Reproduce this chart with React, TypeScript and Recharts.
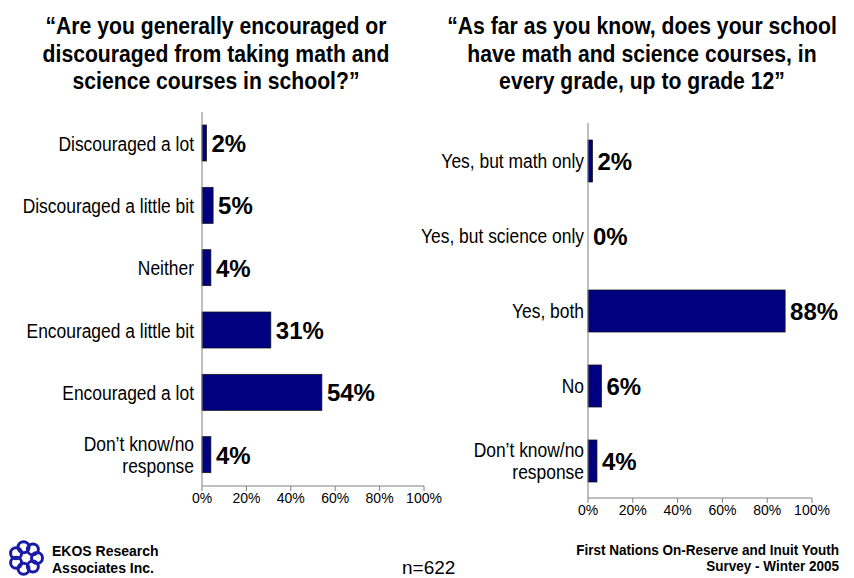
import React from "react";
import { BarChart, Bar, XAxis, YAxis } from "recharts";

// ---------------------------------------------------------------------------
// Data
// ---------------------------------------------------------------------------
const leftCategories = [
  "Discouraged a lot",
  "Discouraged a little bit",
  "Neither",
  "Encouraged a little bit",
  "Encouraged a lot",
  "Don\u2019t know/no\nresponse",
];
const leftValues = [2, 5, 4, 31, 54, 4];

const rightCategories = [
  "Yes, but math only",
  "Yes, but science only",
  "Yes, both",
  "No",
  "Don\u2019t know/no\nresponse",
];
const rightValues = [2, 0, 88, 6, 4];

const xTicks = [0, 20, 40, 60, 80, 100];

const leftData = leftCategories.map((label, i) => ({ label, value: leftValues[i] }));
const rightData = rightCategories.map((label, i) => ({ label, value: rightValues[i] }));

// ---------------------------------------------------------------------------
// Styles
// ---------------------------------------------------------------------------
// no Arial Narrow installed: Liberation Sans squeezed horizontally stands in for it
const SANS = '"Liberation Sans", Arial, sans-serif';
const NARROW = 0.83;
const BAR = "#000080";
const AXIS = "#808080";

function CatTick({ x, y, payload }: { x?: number; y?: number; payload?: { value: string } }) {
  const lines = String(payload?.value ?? "").split("\n");
  const lh = 22;
  const y0 = (y ?? 0) - ((lines.length - 1) * lh) / 2;
  return (
    <g>
      {lines.map((l, i) => (
        <text
          key={i}
          x={0}
          y={0}
          dy="0.35em"
          transform={`translate(${x} ${y0 + i * lh}) scale(${NARROW} 1)`}
          textAnchor="end"
          fontSize={21}
          fontFamily={SANS}
          fill="#000"
        >
          {l}
        </text>
      ))}
    </g>
  );
}

function ValueLabel(props: { x?: number; y?: number; width?: number; height?: number; value?: number }) {
  const { x = 0, y = 0, width = 0, height = 0, value } = props;
  return (
    <text
      x={x + width + 5}
      y={y + height / 2}
      dy="0.37em"
      textAnchor="start"
      fontSize={24}
      fontWeight={700}
      fontFamily={SANS}
      fill="#000"
    >
      {`${value}%`}
    </text>
  );
}

// bars with a 0 value get no rectangle, only their label
function BarShape(props: any) {
  const { x, y, width, height, payload } = props;
  if (!payload || payload.value <= 0) return <g />;
  return <rect x={x} y={y} width={width} height={height} fill={BAR} stroke="#111" strokeWidth={0.75} />;
}

function Panel({ data, width, height, yAxisWidth, margin, barSize, labelGap }: {
  data: { label: string; value: number }[];
  width: number;
  height: number;
  yAxisWidth: number;
  margin: { top: number; right: number; bottom: number; left: number };
  barSize: number;
  labelGap: number;
}) {
  return (
    <BarChart layout="vertical" width={width} height={height} data={data} margin={margin}>
      <XAxis
        type="number"
        domain={[0, 100]}
        ticks={xTicks}
        height={30}
        tickFormatter={(v: number) => `${v}%`}
        stroke={AXIS}
        tickSize={5}
        tick={{ fontSize: 14, fill: "#000", fontFamily: SANS }}
      />
      <YAxis
        type="category"
        dataKey="label"
        width={yAxisWidth}
        stroke={AXIS}
        tickLine={false}
        tickSize={labelGap - 2}
        tickMargin={2}
        interval={0}
        tick={<CatTick />}
      />
      <Bar
        dataKey="value"
        fill={BAR}
        barSize={barSize}
        minPointSize={0.01}
        shape={<BarShape />}
        isAnimationActive={false}
        label={(p: any) => <ValueLabel {...p} />}
      />
    </BarChart>
  );
}

function Logo() {
  const spokes = [0, 1, 2, 3, 4, 5, 6];
  return (
    <svg width={38} height={38} viewBox="-19 -19 38 38">
      {spokes.map((i) => {
        const a = (i / spokes.length) * Math.PI * 2;
        return (
          <circle key={i} cx={Math.cos(a) * 11} cy={Math.sin(a) * 11} r={5.5} fill="none" stroke="#1a1aa8" strokeWidth={3} />
        );
      })}
    </svg>
  );
}

const titleStyle: React.CSSProperties = {
  position: "absolute",
  top: 13,
  width: 500,
  textAlign: "center",
  fontFamily: SANS,
  fontWeight: 700,
  fontSize: 23,
  lineHeight: "27.5px",
  color: "#000",
  transform: "scaleX(0.92)",
  transformOrigin: "center top",
  whiteSpace: "nowrap",
};

export default function App() {
  return (
    <div style={{ position: "absolute", left: 0, top: 0, width: 854, height: 578, background: "#fff", overflow: "hidden" }}>
      {/* titles */}
      <div style={{ ...titleStyle, left: 216 - 250 }}>
        {"\u201CAre you generally encouraged or"}<br />
        discouraged from taking math and<br />
        {"science courses in school?\u201D"}
      </div>
      <div style={{ ...titleStyle, left: 642 - 250 }}>
        {"\u201CAs far as you know, does your school"}<br />
        have math and science courses, in<br />
        {"every grade, up to grade 12\u201D"}
      </div>

      {/* charts */}
      <div style={{ position: "absolute", left: 0, top: 0 }}>
        <Panel
          data={leftData}
          width={460}
          height={540}
          yAxisWidth={202}
          margin={{ top: 112, right: 36, bottom: 24, left: 0 }}
          barSize={36}
          labelGap={8}
        />
      </div>
      <div style={{ position: "absolute", left: 400, top: 0 }}>
        <Panel
          data={rightData}
          width={454}
          height={540}
          yAxisWidth={188}
          margin={{ top: 123, right: 42, bottom: 12, left: 0 }}
          barSize={42}
          labelGap={4}
        />
      </div>

      {/* footer */}
      <div style={{ position: "absolute", left: 7, top: 539 }}>
        <Logo />
      </div>
      <div style={{ position: "absolute", left: 52, top: 543, fontFamily: SANS, fontWeight: 700, fontSize: 14, lineHeight: "17px", color: "#000" }}>
        EKOS Research<br />Associates Inc.
      </div>
      <div style={{ position: "absolute", left: 402, top: 557, fontFamily: SANS, fontSize: 19, lineHeight: "22px", color: "#000" }}>
        n=622
      </div>
      <div style={{ position: "absolute", left: 839 - 400, top: 542, width: 400, textAlign: "right", fontFamily: SANS, fontWeight: 700, fontSize: 15, lineHeight: "15.5px", color: "#000", transform: "scaleX(0.9)", transformOrigin: "right top", whiteSpace: "nowrap" }}>
        First Nations On-Reserve and Inuit Youth<br />Survey - Winter 2005
      </div>
    </div>
  );
}
